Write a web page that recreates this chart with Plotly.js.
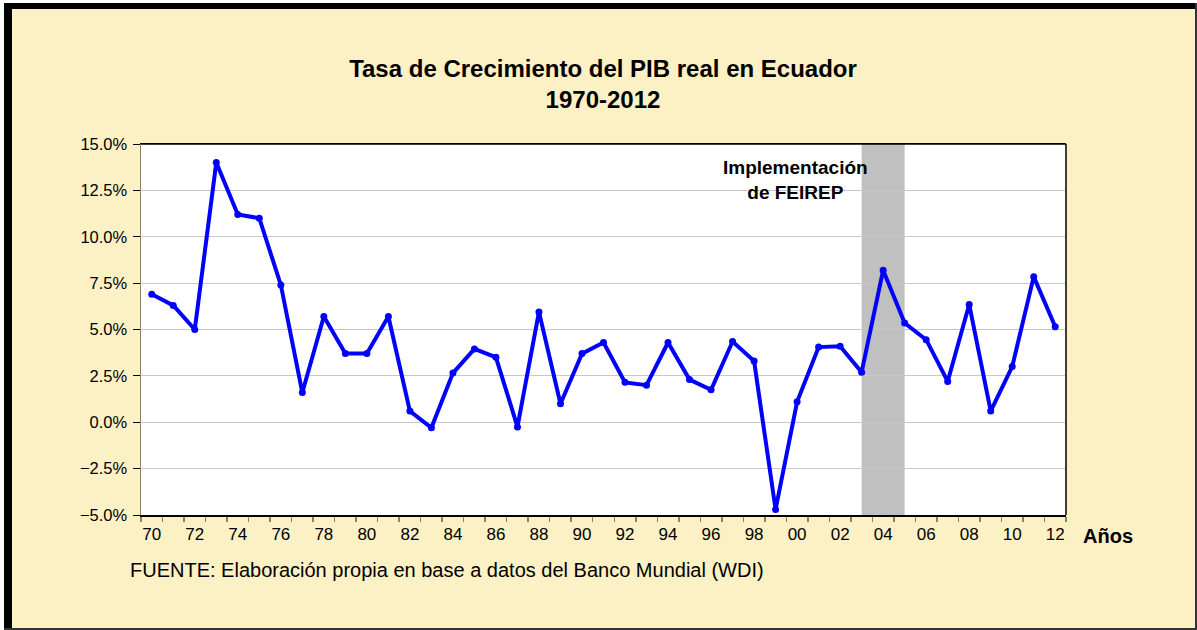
<!DOCTYPE html>
<html>
<head>
<meta charset="utf-8">
<script src="https://cdn.plot.ly/plotly-3.0.1.min.js"></script>
<style>
  html, body { margin: 0; padding: 0; background: #ffffff; }
  #wrap { position: relative; width: 1197px; height: 630px; overflow: hidden; }
  #chart { position: absolute; left: 0; top: 0; width: 1197px; height: 630px; }
  .frame { position: absolute; background: #000; pointer-events: none; }
</style>
</head>
<body>
<div id="wrap">
  <div id="chart"></div>
  <div class="frame" style="left:0;top:0;width:1197px;height:3px;background:#fff"></div>
  <div class="frame" style="left:0;top:0;width:4px;height:630px;background:#fff"></div>
  <div class="frame" style="left:4px;top:3px;width:1193px;height:6px"></div>
  <div class="frame" style="left:4px;top:3px;width:8px;height:627px"></div>
  <div class="frame" style="left:1195px;top:3px;width:2px;height:627px;background:#333"></div>
  <div class="frame" style="left:4px;top:628px;width:1193px;height:2px;background:#333"></div>
</div>
<script>
// ---- data ----
const years = [1970,1971,1972,1973,1974,1975,1976,1977,1978,1979,
               1980,1981,1982,1983,1984,1985,1986,1987,1988,1989,
               1990,1991,1992,1993,1994,1995,1996,1997,1998,1999,
               2000,2001,2002,2003,2004,2005,2006,2007,2008,2009,
               2010,2011,2012];
const growth = [6.9, 6.3, 5.0, 14.0, 11.2, 11.0, 7.4, 1.6, 5.7, 3.7,
                3.7, 5.7, 0.6, -0.3, 2.65, 3.95, 3.5, -0.25, 5.95, 1.0,
                3.7, 4.3, 2.15, 2.0, 4.3, 2.3, 1.75, 4.35, 3.3, -4.7,
                1.1, 4.05, 4.1, 2.7, 8.2, 5.35, 4.45, 2.2, 6.35, 0.6,
                3.0, 7.85, 5.15];
const tickYears = [1970,1972,1974,1976,1978,1980,1982,1984,1986,1988,1990,
                   1992,1994,1996,1998,2000,2002,2004,2006,2008,2010,2012];
const tickLabels = ["70","72","74","76","78","80","82","84","86","88","90",
                    "92","94","96","98","00","02","04","06","08","10","12"];
const shadeStart = 2003;
const shadeEnd = 2005;
const titleText = "Tasa de Crecimiento del PIB real en Ecuador<br>1970-2012";
const shadeLabel = "Implementación<br>de FEIREP";
const xLabel = "Años";
const sourceText = "FUENTE: Elaboración propia en base a datos del Banco Mundial (WDI)";

const W = 1197, H = 630;
const L = 141, R = 1066, T = 144, B = 515.5;
const pw = R - L, ph = B - T;
const px = v => (v - L) / pw;
const py = v => (B - v) / ph;

const trace = {
  x: years, y: growth, type: 'scatter', mode: 'lines+markers',
  line: { color: '#0000FF', width: 4 },
  marker: { color: '#0000FF', size: 7 },
  hoverinfo: 'skip', showlegend: false
};

const font = 'Liberation Sans, Arial, sans-serif';

const layout = {
  width: W, height: H,
  paper_bgcolor: '#FCF1C4',
  plot_bgcolor: '#FFFFFF',
  margin: { l: L, r: W - R, t: T, b: H - B, pad: 0 },
  showlegend: false,
  title: {
    text: titleText,
    font: { family: font, size: 24, color: '#000', weight: 'bold' },
    x: 603 / W, xanchor: 'center', xref: 'container',
    y: 1 - 77 / H, yanchor: 'top', yref: 'container'
  },
  xaxis: {
    range: [1969.5, 2012.5],
    tickmode: 'array', tickvals: tickYears, ticktext: tickLabels,
    ticks: '', showgrid: false, zeroline: false,
    tickfont: { family: font, size: 17, color: '#000' },
    showline: true, linecolor: '#000', linewidth: 1.5, mirror: true,
    ticklabelstandoff: 3,
    minor: { ticks: 'outside', tick0: 1969.5, dtick: 1, ticklen: 5, tickcolor: '#8C8060', tickwidth: 1.5, showgrid: false }
  },
  yaxis: {
    range: [-5, 15], dtick: 2.5, tick0: 0,
    tickformat: '.1f', ticksuffix: '%',
    ticks: 'outside', ticklen: 7, tickcolor: '#000', tickwidth: 1,
    showgrid: true, gridcolor: '#C8C8C8', gridwidth: 1, zeroline: false,
    tickfont: { family: font, size: 16.5, color: '#000' },
    showline: true, linecolor: '#8C8060', linewidth: 1.5,
    ticklabelstandoff: 2
  },
  shapes: [
    { type: 'rect', xref: 'x', yref: 'paper', x0: shadeStart, x1: shadeEnd, y0: 0, y1: 1,
      fillcolor: '#C0C0C0', line: { width: 0 }, layer: 'below' },
    { type: 'line', xref: 'paper', yref: 'paper', x0: 0, x1: 1, y0: 1, y1: 1,
      line: { color: '#000', width: 1.5 } },
    { type: 'line', xref: 'paper', yref: 'paper', x0: 1, x1: 1, y0: 0, y1: 1,
      line: { color: '#000', width: 1.5 } }
  ],
  annotations: [
    { text: shadeLabel, xref: 'paper', yref: 'paper', x: px(795), y: py(180),
      xanchor: 'center', yanchor: 'middle', showarrow: false, align: 'center',
      font: { family: font, size: 19, color: '#000', weight: 'bold' } },
    { text: '<b>' + xLabel + '</b>', xref: 'paper', yref: 'paper', x: px(1081), y: py(537),
      xanchor: 'left', yanchor: 'middle', showarrow: false,
      font: { family: font, size: 20, color: '#000' } },
    { text: sourceText, xref: 'paper', yref: 'paper', x: px(128), y: py(571),
      xanchor: 'left', yanchor: 'middle', showarrow: false,
      font: { family: font, size: 20, color: '#000' } }
  ]
};

Plotly.newPlot('chart', [trace], layout, { staticPlot: true, displayModeBar: false });
</script>
</body>
</html>
